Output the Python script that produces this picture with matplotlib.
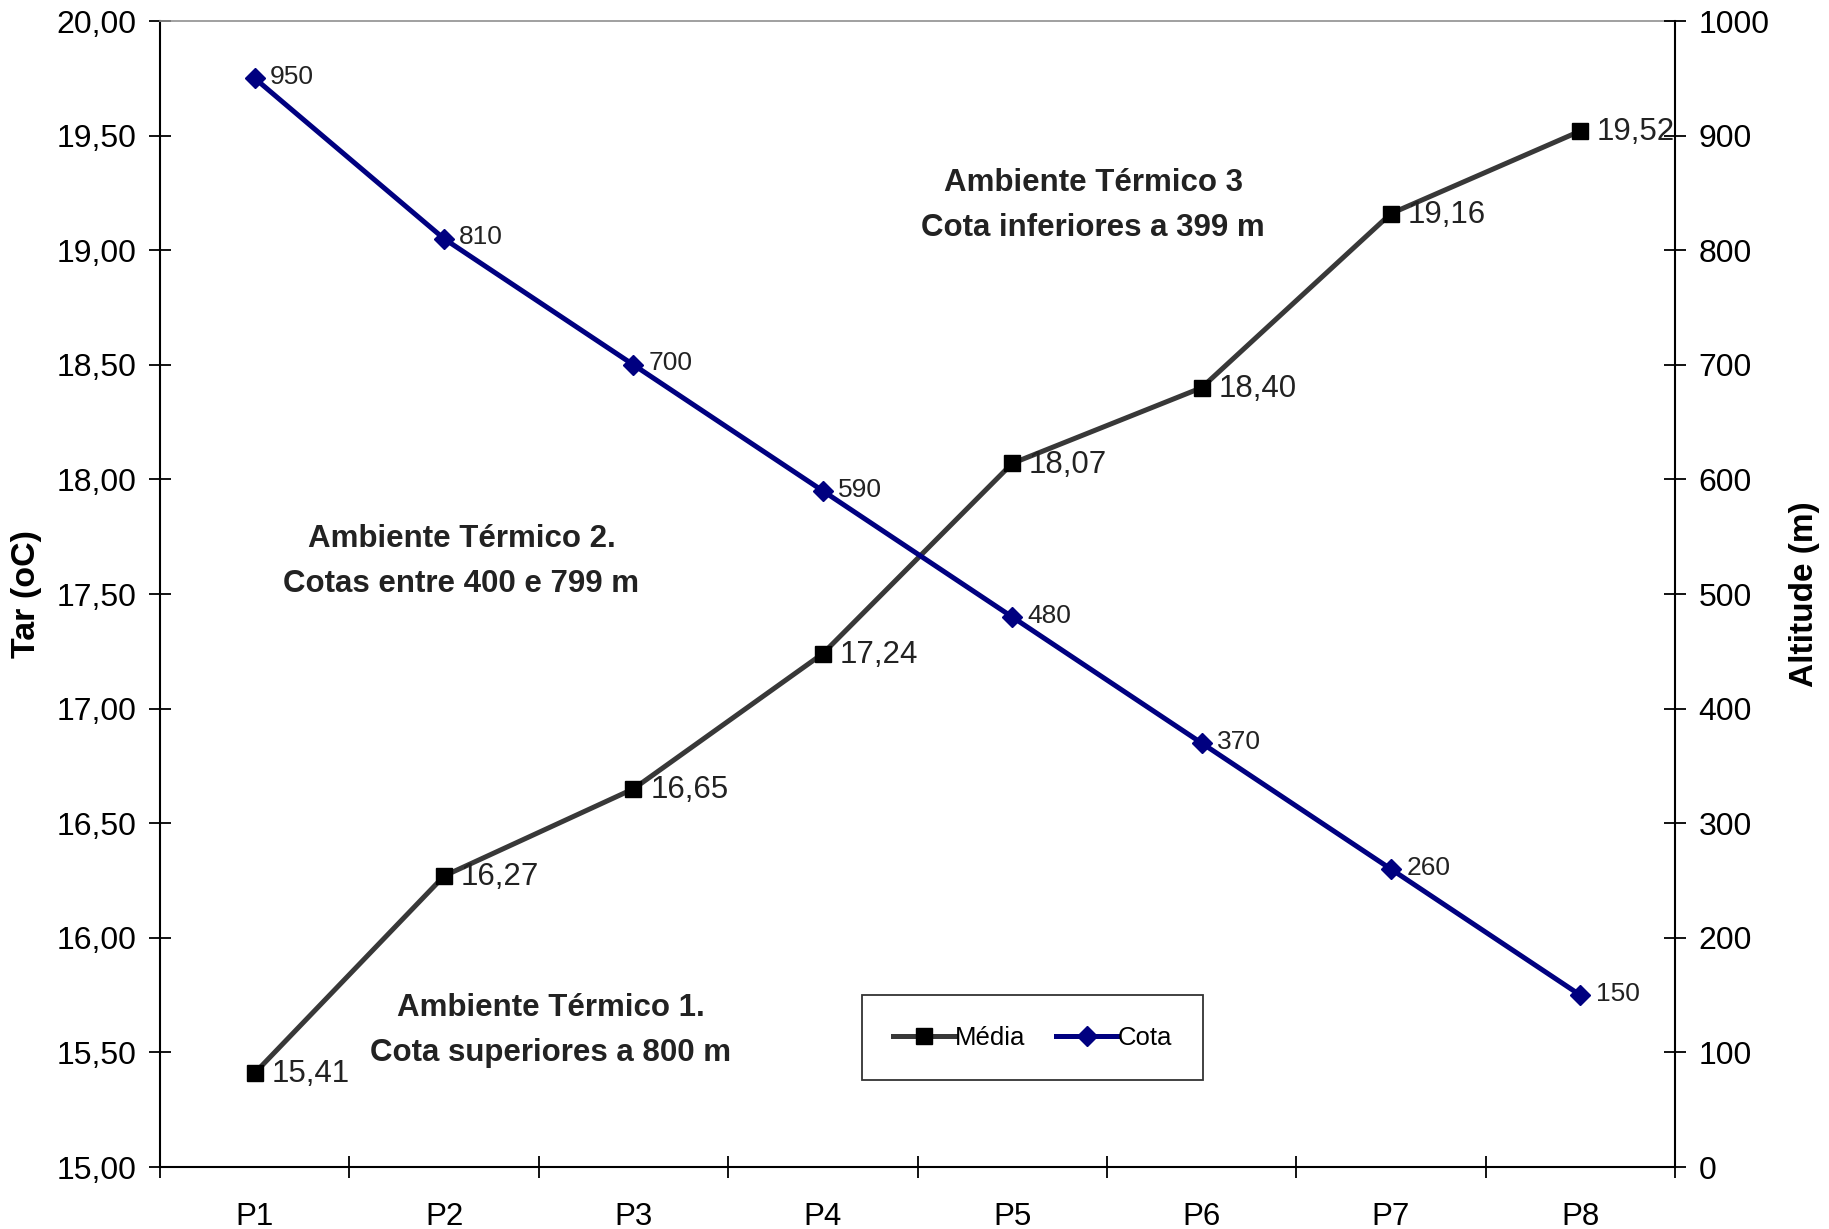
import matplotlib.pyplot as plt
from matplotlib.ticker import FuncFormatter

plt.rcParams['font.family'] = ['Liberation Sans', 'DejaVu Sans']

pontos = ["P1", "P2", "P3", "P4", "P5", "P6", "P7", "P8"]
media = [15.41, 16.27, 16.65, 17.24, 18.07, 18.40, 19.16, 19.52]
cota = [950, 810, 700, 590, 480, 370, 260, 150]

ambientes = [
    ("Ambiente Térmico 1.\nCota superiores a 800 m", 0.258, 0.119),
    ("Ambiente Térmico 2.\nCotas entre 400 e 799 m", 0.199, 0.528),
    ("Ambiente Térmico 3\nCota inferiores a 399 m", 0.616, 0.839),
]

GRAY = "#383838"
NAVY = "#000080"


def virgula(v, decimals=2):
    return f"{v:.{decimals}f}".replace(".", ",")


def main():
    fig = plt.figure(figsize=(18.29, 12.29), dpi=100)
    ax = fig.add_axes([0.0875, 0.0504, 0.8283, 0.9325])
    ax2 = ax.twinx()

    x = list(range(len(pontos)))

    l1, = ax.plot(x, media, color=GRAY, lw=3.6, marker="s", ms=11,
                  mfc="black", mec="black", label="Média", zorder=3)
    l2, = ax2.plot(x, cota, color=NAVY, lw=3.6, marker="D", ms=10.5,
                   mfc=NAVY, mec=NAVY, label="Cota", zorder=3)

    for xi, v in zip(x, media):
        ax.annotate(virgula(v), (xi, v), xytext=(12, -1), textcoords="offset points",
                    ha="left", va="center", fontsize=22.5, color="#222222",
                    annotation_clip=False)
    for xi, v in zip(x, cota):
        ax2.annotate(str(v), (xi, v), xytext=(11, 1), textcoords="offset points",
                     ha="left", va="center", fontsize=19, color="#222222",
                     annotation_clip=False)

    for txt, tx, ty in ambientes:
        ax.text(tx, ty, txt, transform=ax.transAxes, ha="center", va="center",
                fontsize=22.5, fontweight="bold", color="#222222", linespacing=1.65)

    # axes ranges and ticks
    ax.set_xlim(-0.5, len(pontos) - 0.5)
    ax.set_ylim(15, 20)
    ax2.set_ylim(0, 1000)
    ax.set_yticks([15 + 0.5 * i for i in range(11)])
    ax.yaxis.set_major_formatter(FuncFormatter(lambda v, p: virgula(v)))
    ax2.set_yticks(range(0, 1001, 100))

    ax.set_xticks([i - 0.5 for i in range(len(pontos) + 1)])
    ax.set_xticklabels([])
    ax.set_xticks(x, minor=True)
    ax.set_xticklabels(pontos, minor=True)

    ax.tick_params(axis="x", which="major", direction="inout", length=16, width=1.3)
    ax.tick_params(axis="x", which="minor", length=0, pad=25, labelsize=22.5)
    ax.tick_params(axis="y", direction="inout", length=16, width=1.3, pad=9, labelsize=23)
    ax2.tick_params(axis="y", direction="inout", length=16, width=1.3, pad=9, labelsize=23)

    for s in ["left", "bottom"]:
        ax.spines[s].set_linewidth(1.5)
    ax.spines["right"].set_visible(False)
    ax.spines["top"].set_color("#909090")
    ax.spines["top"].set_linewidth(1.2)
    for s in ["left", "bottom", "top"]:
        ax2.spines[s].set_visible(False)
    ax2.spines["right"].set_linewidth(1.5)

    ax.set_ylabel("Tar (oC)", fontsize=24.5, fontweight="bold")
    ax.yaxis.set_label_coords(-0.078, 0.5)
    ax2.set_ylabel("Altitude (m)", fontsize=24, fontweight="bold", rotation=90)
    ax2.yaxis.set_label_coords(1.075, 0.5)

    leg = ax2.legend([l1, l2], ["Média", "Cota"], loc="center",
                     bbox_to_anchor=(0.576, 0.113), ncol=2, fontsize=18.5,
                     frameon=True, fancybox=False, edgecolor="black",
                     handlelength=2.4, handletextpad=0.0, columnspacing=1.2,
                     borderpad=1.2)
    leg.get_frame().set_linewidth(1.3)

    fig.savefig("out.png", dpi=100)


if __name__ == "__main__":
    main()
